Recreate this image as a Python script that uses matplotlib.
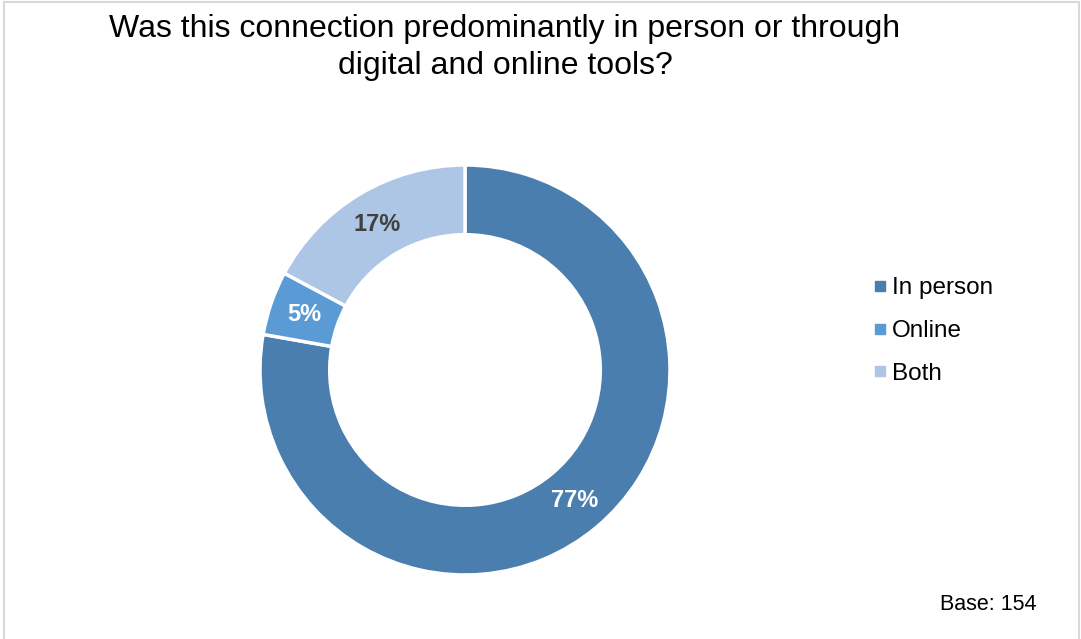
import matplotlib.pyplot as plt
from matplotlib.patches import Rectangle
from matplotlib.lines import Line2D

plt.rcParams['font.family'] = ['Liberation Sans', 'DejaVu Sans']

# Survey responses
categories = ["In person", "Online", "Both"]
shares = [77, 5, 17]
colors = ["#4A7EAF", "#5B9BD5", "#ADC6E5"]
label_colors = ["white", "white", "#404040"]
base_n = 154

fig = plt.figure(figsize=(10.81, 6.39), dpi=100)

# light chart frame
fig.patches.append(Rectangle((4 / 1081, -0.01), 1075 / 1081, 1.01 - 2 / 639,
                             transform=fig.transFigure, fill=False,
                             edgecolor="#D9D9D9", linewidth=1.5))

ax = fig.add_axes([0.2405, 0.1002, 0.3793, 0.6416])
wedges, texts, autotexts = ax.pie(
    shares, colors=colors, startangle=90, counterclock=False,
    radius=1.0, autopct=lambda p: f"{p * sum(shares) / 100:.0f}%",
    pctdistance=0.83,
    wedgeprops=dict(width=0.34, edgecolor="white", linewidth=2.5),
    textprops=dict(fontsize=17, fontweight="bold"))
for t, c in zip(autotexts, label_colors):
    t.set_color(c)
ax.set_xlim(-1, 1)
ax.set_ylim(-1, 1)
ax.set_aspect("equal")

fig.text(505 / 1081, 1 - 14 / 639,
         "Was this connection predominantly in person or through\n"
         "digital and online tools?",
         ha="center", va="top", fontsize=23, linespacing=1.3)

handles = [Line2D([], [], marker="s", linestyle="none", markersize=7,
                  markerfacecolor=c, markeredgecolor=c) for c in colors]
fig.legend(handles, categories, loc="center left",
           bbox_to_anchor=(847 / 1081, 1 - 331 / 639), frameon=False,
           fontsize=17.5, handletextpad=0.05, labelspacing=0.85,
           handlelength=0.9)

fig.text(1037 / 1081, 1 - 605 / 639, f"Base: {base_n}",
         ha="right", va="center", fontsize=15.5)

fig.savefig("out.png", dpi=100)
